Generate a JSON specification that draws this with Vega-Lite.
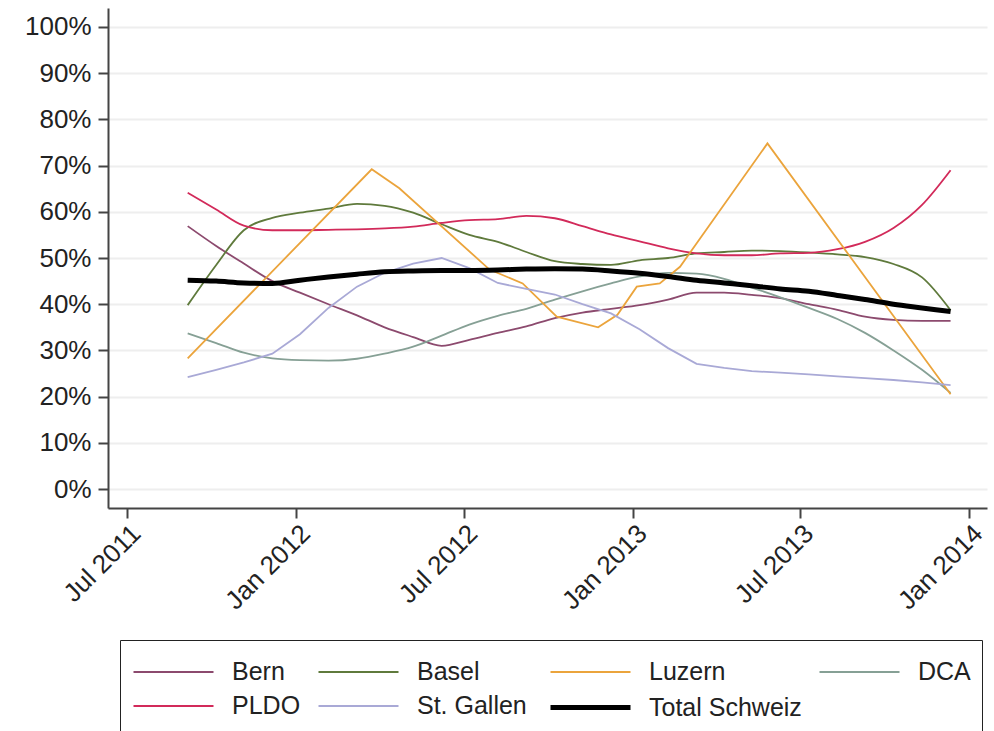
{
  "$schema": "https://vega.github.io/schema/vega-lite/v6.json",
  "width": 879,
  "height": 500,
  "autosize": "none",
  "padding": {"left": 108, "top": 8, "right": 7, "bottom": 223},
  "background": "white",
  "config": {
    "view": {"stroke": null},
    "font": "Liberation Sans",
    "legend": {
      "orient": "none",
      "direction": "horizontal",
      "legendX": 12,
      "legendY": 632,
      "columns": 4,
      "strokeColor": "#222222",
      "padding": 11,
      "labelFontSize": 25,
      "labelColor": "#222222",
      "symbolType": "M-1,0H3",
      "symbolSize": 1600,
      "labelOffset": 56,
      "columnPadding": 13,
      "rowPadding": 0
    }
  },
  "data": {
    "values": [
      {"s": "Bern", "d": "2011-09-05T00:00", "v": 56.9},
      {"s": "Bern", "d": "2011-10-06T00:00", "v": 52.6},
      {"s": "Bern", "d": "2011-11-05T00:00", "v": 48.8},
      {"s": "Bern", "d": "2011-12-06T00:00", "v": 45.0},
      {"s": "Bern", "d": "2012-01-05T00:00", "v": 42.5},
      {"s": "Bern", "d": "2012-02-05T00:00", "v": 40.0},
      {"s": "Bern", "d": "2012-03-07T00:00", "v": 37.6},
      {"s": "Bern", "d": "2012-04-06T00:00", "v": 35.0},
      {"s": "Bern", "d": "2012-05-07T00:00", "v": 32.9},
      {"s": "Bern", "d": "2012-06-07T00:00", "v": 31.0},
      {"s": "Bern", "d": "2012-07-07T00:00", "v": 32.3},
      {"s": "Bern", "d": "2012-08-07T00:00", "v": 33.8},
      {"s": "Bern", "d": "2012-09-07T00:00", "v": 35.2},
      {"s": "Bern", "d": "2012-10-08T00:00", "v": 37.0},
      {"s": "Bern", "d": "2012-11-07T00:00", "v": 38.2},
      {"s": "Bern", "d": "2012-12-08T00:00", "v": 39.0},
      {"s": "Bern", "d": "2013-01-08T00:00", "v": 39.8},
      {"s": "Bern", "d": "2013-02-08T00:00", "v": 41.0},
      {"s": "Bern", "d": "2013-03-11T00:00", "v": 42.5},
      {"s": "Bern", "d": "2013-04-10T00:00", "v": 42.5},
      {"s": "Bern", "d": "2013-05-10T00:00", "v": 42.0},
      {"s": "Bern", "d": "2013-06-10T00:00", "v": 41.3},
      {"s": "Bern", "d": "2013-07-11T00:00", "v": 40.0},
      {"s": "Bern", "d": "2013-08-11T00:00", "v": 38.8},
      {"s": "Bern", "d": "2013-09-10T00:00", "v": 37.3},
      {"s": "Bern", "d": "2013-10-11T00:00", "v": 36.6},
      {"s": "Bern", "d": "2013-11-11T00:00", "v": 36.4},
      {"s": "Bern", "d": "2013-12-12T00:00", "v": 36.4},

      {"s": "Basel", "d": "2011-09-05T00:00", "v": 39.8},
      {"s": "Basel", "d": "2011-10-06T00:00", "v": 48.5},
      {"s": "Basel", "d": "2011-11-05T00:00", "v": 56.0},
      {"s": "Basel", "d": "2011-12-06T00:00", "v": 58.7},
      {"s": "Basel", "d": "2012-01-05T00:00", "v": 59.8},
      {"s": "Basel", "d": "2012-02-05T00:00", "v": 60.7},
      {"s": "Basel", "d": "2012-03-07T00:00", "v": 61.7},
      {"s": "Basel", "d": "2012-04-06T00:00", "v": 61.3},
      {"s": "Basel", "d": "2012-05-07T00:00", "v": 59.8},
      {"s": "Basel", "d": "2012-06-07T00:00", "v": 57.3},
      {"s": "Basel", "d": "2012-07-07T00:00", "v": 55.0},
      {"s": "Basel", "d": "2012-08-07T00:00", "v": 53.5},
      {"s": "Basel", "d": "2012-09-07T00:00", "v": 51.3},
      {"s": "Basel", "d": "2012-10-08T00:00", "v": 49.3},
      {"s": "Basel", "d": "2012-11-07T00:00", "v": 48.7},
      {"s": "Basel", "d": "2012-12-08T00:00", "v": 48.5},
      {"s": "Basel", "d": "2013-01-08T00:00", "v": 49.5},
      {"s": "Basel", "d": "2013-02-08T00:00", "v": 50.0},
      {"s": "Basel", "d": "2013-03-11T00:00", "v": 51.0},
      {"s": "Basel", "d": "2013-04-10T00:00", "v": 51.3},
      {"s": "Basel", "d": "2013-05-10T00:00", "v": 51.6},
      {"s": "Basel", "d": "2013-06-10T00:00", "v": 51.5},
      {"s": "Basel", "d": "2013-07-11T00:00", "v": 51.2},
      {"s": "Basel", "d": "2013-08-11T00:00", "v": 50.8},
      {"s": "Basel", "d": "2013-09-10T00:00", "v": 50.2},
      {"s": "Basel", "d": "2013-10-11T00:00", "v": 48.7},
      {"s": "Basel", "d": "2013-11-11T00:00", "v": 45.8},
      {"s": "Basel", "d": "2013-12-12T00:00", "v": 38.7},

      {"s": "Luzern", "d": "2011-09-05T00:00", "v": 28.3},
      {"s": "Luzern", "d": "2012-03-23T00:00", "v": 69.2},
      {"s": "Luzern", "d": "2012-04-22T00:00", "v": 65.1},
      {"s": "Luzern", "d": "2012-07-29T00:00", "v": 47.5},
      {"s": "Luzern", "d": "2012-09-03T00:00", "v": 44.5},
      {"s": "Luzern", "d": "2012-10-10T00:00", "v": 37.3},
      {"s": "Luzern", "d": "2012-11-24T00:00", "v": 35.0},
      {"s": "Luzern", "d": "2012-12-15T00:00", "v": 37.7},
      {"s": "Luzern", "d": "2013-01-05T00:00", "v": 43.8},
      {"s": "Luzern", "d": "2013-01-30T00:00", "v": 44.5},
      {"s": "Luzern", "d": "2013-02-21T00:00", "v": 48.1},
      {"s": "Luzern", "d": "2013-05-27T00:00", "v": 74.8},
      {"s": "Luzern", "d": "2013-12-12T00:00", "v": 20.5},

      {"s": "DCA", "d": "2011-09-05T00:00", "v": 33.7},
      {"s": "DCA", "d": "2011-10-06T00:00", "v": 31.6},
      {"s": "DCA", "d": "2011-11-05T00:00", "v": 29.5},
      {"s": "DCA", "d": "2011-12-06T00:00", "v": 28.3},
      {"s": "DCA", "d": "2012-01-05T00:00", "v": 27.9},
      {"s": "DCA", "d": "2012-02-05T00:00", "v": 27.8},
      {"s": "DCA", "d": "2012-03-07T00:00", "v": 28.2},
      {"s": "DCA", "d": "2012-04-06T00:00", "v": 29.3},
      {"s": "DCA", "d": "2012-05-07T00:00", "v": 30.8},
      {"s": "DCA", "d": "2012-06-07T00:00", "v": 33.2},
      {"s": "DCA", "d": "2012-07-07T00:00", "v": 35.6},
      {"s": "DCA", "d": "2012-08-07T00:00", "v": 37.5},
      {"s": "DCA", "d": "2012-09-07T00:00", "v": 39.0},
      {"s": "DCA", "d": "2012-10-08T00:00", "v": 41.0},
      {"s": "DCA", "d": "2012-11-07T00:00", "v": 42.8},
      {"s": "DCA", "d": "2012-12-08T00:00", "v": 44.5},
      {"s": "DCA", "d": "2013-01-08T00:00", "v": 46.0},
      {"s": "DCA", "d": "2013-02-08T00:00", "v": 46.8},
      {"s": "DCA", "d": "2013-03-11T00:00", "v": 46.6},
      {"s": "DCA", "d": "2013-04-10T00:00", "v": 45.5},
      {"s": "DCA", "d": "2013-05-10T00:00", "v": 43.6},
      {"s": "DCA", "d": "2013-06-10T00:00", "v": 41.5},
      {"s": "DCA", "d": "2013-07-11T00:00", "v": 39.2},
      {"s": "DCA", "d": "2013-08-11T00:00", "v": 36.8},
      {"s": "DCA", "d": "2013-09-10T00:00", "v": 33.8},
      {"s": "DCA", "d": "2013-10-11T00:00", "v": 30.0},
      {"s": "DCA", "d": "2013-11-11T00:00", "v": 25.8},
      {"s": "DCA", "d": "2013-12-12T00:00", "v": 20.8},

      {"s": "PLDO", "d": "2011-09-05T00:00", "v": 64.1},
      {"s": "PLDO", "d": "2011-10-06T00:00", "v": 60.5},
      {"s": "PLDO", "d": "2011-11-05T00:00", "v": 57.0},
      {"s": "PLDO", "d": "2011-12-06T00:00", "v": 56.0},
      {"s": "PLDO", "d": "2012-01-05T00:00", "v": 56.0},
      {"s": "PLDO", "d": "2012-02-05T00:00", "v": 56.1},
      {"s": "PLDO", "d": "2012-03-07T00:00", "v": 56.2},
      {"s": "PLDO", "d": "2012-04-06T00:00", "v": 56.4},
      {"s": "PLDO", "d": "2012-05-07T00:00", "v": 56.8},
      {"s": "PLDO", "d": "2012-06-07T00:00", "v": 57.6},
      {"s": "PLDO", "d": "2012-07-07T00:00", "v": 58.2},
      {"s": "PLDO", "d": "2012-08-07T00:00", "v": 58.4},
      {"s": "PLDO", "d": "2012-09-07T00:00", "v": 59.1},
      {"s": "PLDO", "d": "2012-10-08T00:00", "v": 58.6},
      {"s": "PLDO", "d": "2012-11-07T00:00", "v": 56.9},
      {"s": "PLDO", "d": "2012-12-08T00:00", "v": 55.1},
      {"s": "PLDO", "d": "2013-01-08T00:00", "v": 53.6},
      {"s": "PLDO", "d": "2013-02-08T00:00", "v": 52.1},
      {"s": "PLDO", "d": "2013-03-11T00:00", "v": 51.0},
      {"s": "PLDO", "d": "2013-04-10T00:00", "v": 50.6},
      {"s": "PLDO", "d": "2013-05-10T00:00", "v": 50.6},
      {"s": "PLDO", "d": "2013-06-10T00:00", "v": 51.0},
      {"s": "PLDO", "d": "2013-07-11T00:00", "v": 51.1},
      {"s": "PLDO", "d": "2013-08-11T00:00", "v": 51.9},
      {"s": "PLDO", "d": "2013-09-10T00:00", "v": 53.5},
      {"s": "PLDO", "d": "2013-10-11T00:00", "v": 56.5},
      {"s": "PLDO", "d": "2013-11-11T00:00", "v": 61.5},
      {"s": "PLDO", "d": "2013-12-12T00:00", "v": 69.0},

      {"s": "St. Gallen", "d": "2011-09-05T00:00", "v": 24.2},
      {"s": "St. Gallen", "d": "2011-10-06T00:00", "v": 25.8},
      {"s": "St. Gallen", "d": "2011-11-05T00:00", "v": 27.4},
      {"s": "St. Gallen", "d": "2011-12-06T00:00", "v": 29.3},
      {"s": "St. Gallen", "d": "2012-01-05T00:00", "v": 33.5},
      {"s": "St. Gallen", "d": "2012-02-05T00:00", "v": 39.2},
      {"s": "St. Gallen", "d": "2012-03-07T00:00", "v": 43.8},
      {"s": "St. Gallen", "d": "2012-04-06T00:00", "v": 46.8},
      {"s": "St. Gallen", "d": "2012-05-07T00:00", "v": 48.8},
      {"s": "St. Gallen", "d": "2012-06-07T00:00", "v": 50.0},
      {"s": "St. Gallen", "d": "2012-07-07T00:00", "v": 47.8},
      {"s": "St. Gallen", "d": "2012-08-07T00:00", "v": 44.6},
      {"s": "St. Gallen", "d": "2012-09-07T00:00", "v": 43.3},
      {"s": "St. Gallen", "d": "2012-10-08T00:00", "v": 42.1},
      {"s": "St. Gallen", "d": "2012-11-07T00:00", "v": 40.0},
      {"s": "St. Gallen", "d": "2012-12-08T00:00", "v": 38.0},
      {"s": "St. Gallen", "d": "2013-01-08T00:00", "v": 34.6},
      {"s": "St. Gallen", "d": "2013-02-08T00:00", "v": 30.5},
      {"s": "St. Gallen", "d": "2013-03-11T00:00", "v": 27.1},
      {"s": "St. Gallen", "d": "2013-04-10T00:00", "v": 26.2},
      {"s": "St. Gallen", "d": "2013-05-10T00:00", "v": 25.5},
      {"s": "St. Gallen", "d": "2013-06-10T00:00", "v": 25.2},
      {"s": "St. Gallen", "d": "2013-07-11T00:00", "v": 24.8},
      {"s": "St. Gallen", "d": "2013-08-11T00:00", "v": 24.4},
      {"s": "St. Gallen", "d": "2013-09-10T00:00", "v": 24.0},
      {"s": "St. Gallen", "d": "2013-10-11T00:00", "v": 23.6},
      {"s": "St. Gallen", "d": "2013-11-11T00:00", "v": 23.1},
      {"s": "St. Gallen", "d": "2013-12-12T00:00", "v": 22.5},

      {"s": "Total Schweiz", "d": "2011-09-05T00:00", "v": 45.2},
      {"s": "Total Schweiz", "d": "2011-10-06T00:00", "v": 45.0},
      {"s": "Total Schweiz", "d": "2011-11-05T00:00", "v": 44.6},
      {"s": "Total Schweiz", "d": "2011-12-06T00:00", "v": 44.5},
      {"s": "Total Schweiz", "d": "2012-01-05T00:00", "v": 45.2},
      {"s": "Total Schweiz", "d": "2012-02-05T00:00", "v": 45.9},
      {"s": "Total Schweiz", "d": "2012-03-07T00:00", "v": 46.5},
      {"s": "Total Schweiz", "d": "2012-04-06T00:00", "v": 47.0},
      {"s": "Total Schweiz", "d": "2012-05-07T00:00", "v": 47.2},
      {"s": "Total Schweiz", "d": "2012-06-07T00:00", "v": 47.3},
      {"s": "Total Schweiz", "d": "2012-07-07T00:00", "v": 47.3},
      {"s": "Total Schweiz", "d": "2012-08-07T00:00", "v": 47.4},
      {"s": "Total Schweiz", "d": "2012-09-07T00:00", "v": 47.6},
      {"s": "Total Schweiz", "d": "2012-10-08T00:00", "v": 47.7},
      {"s": "Total Schweiz", "d": "2012-11-07T00:00", "v": 47.6},
      {"s": "Total Schweiz", "d": "2012-12-08T00:00", "v": 47.2},
      {"s": "Total Schweiz", "d": "2013-01-08T00:00", "v": 46.7},
      {"s": "Total Schweiz", "d": "2013-02-08T00:00", "v": 46.0},
      {"s": "Total Schweiz", "d": "2013-03-11T00:00", "v": 45.2},
      {"s": "Total Schweiz", "d": "2013-04-10T00:00", "v": 44.6},
      {"s": "Total Schweiz", "d": "2013-05-10T00:00", "v": 44.0},
      {"s": "Total Schweiz", "d": "2013-06-10T00:00", "v": 43.3},
      {"s": "Total Schweiz", "d": "2013-07-11T00:00", "v": 42.8},
      {"s": "Total Schweiz", "d": "2013-08-11T00:00", "v": 41.9},
      {"s": "Total Schweiz", "d": "2013-09-10T00:00", "v": 41.0},
      {"s": "Total Schweiz", "d": "2013-10-11T00:00", "v": 40.0},
      {"s": "Total Schweiz", "d": "2013-11-11T00:00", "v": 39.2},
      {"s": "Total Schweiz", "d": "2013-12-12T00:00", "v": 38.4}
    ]
  },
  "encoding": {
    "x": {
      "field": "d",
      "type": "temporal",
      "scale": {
        "domain": [
          {"year": 2011, "month": 6, "date": 10, "hours": 10},
          {"year": 2014, "month": 1, "date": 20, "hours": 14}
        ]
      },
      "axis": {
        "title": null,
        "values": [
          {"year": 2011, "month": 7, "date": 1},
          {"year": 2012, "month": 1, "date": 1},
          {"year": 2012, "month": 7, "date": 1},
          {"year": 2013, "month": 1, "date": 1},
          {"year": 2013, "month": 7, "date": 1},
          {"year": 2014, "month": 1, "date": 1}
        ],
        "format": "%b %Y",
        "labelAngle": -45,
        "labelFontSize": 26,
        "labelColor": "#222222",
        "labelPadding": 2,
        "tickSize": 10,
        "tickWidth": 2,
        "tickColor": "#444444",
        "domainColor": "#444444",
        "domainWidth": 2,
        "grid": false,
        "labelOverlap": false
      }
    },
    "y": {
      "field": "v",
      "type": "quantitative",
      "scale": {"domain": [-4.1, 104.1], "nice": false, "zero": false},
      "axis": {
        "title": null,
        "values": [0, 10, 20, 30, 40, 50, 60, 70, 80, 90, 100],
        "labelExpr": "datum.value + '%'",
        "labelFontSize": 26,
        "labelColor": "#222222",
        "labelPadding": 7,
        "tickSize": 10,
        "tickWidth": 2,
        "tickColor": "#444444",
        "domainColor": "#444444",
        "domainWidth": 2,
        "grid": true,
        "gridColor": "#eeeeee",
        "gridWidth": 2,
        "labelOverlap": false
      }
    },
    "color": {
      "field": "s",
      "type": "nominal",
      "scale": {
        "domain": ["Bern", "Basel", "Luzern", "DCA", "PLDO", "St. Gallen", "Total Schweiz"],
        "range": ["#8c4a6e", "#5f7a3c", "#eba43c", "#86a095", "#d22a5a", "#a9a9d6", "#000000"]
      },
      "legend": {"title": null}
    },
    "strokeWidth": {
      "field": "s",
      "type": "nominal",
      "scale": {
        "type": "ordinal",
        "domain": ["Bern", "Basel", "Luzern", "DCA", "PLDO", "St. Gallen", "Total Schweiz"],
        "range": [1.8, 1.8, 1.8, 1.8, 1.8, 1.8, 5]
      },
      "legend": {"title": null}
    }
  },
  "layer": [
    {
      "transform": [{"filter": "datum.s != 'Luzern' && datum.s != 'St. Gallen' && datum.s != 'Total Schweiz'"}],
      "mark": {"type": "line", "interpolate": "monotone"}
    },
    {
      "transform": [{"filter": "datum.s == 'Luzern' || datum.s == 'St. Gallen'"}],
      "mark": {"type": "line", "interpolate": "linear"}
    },
    {
      "transform": [{"filter": "datum.s == 'Total Schweiz'"}],
      "mark": {"type": "line", "interpolate": "monotone"}
    }
  ]
}
